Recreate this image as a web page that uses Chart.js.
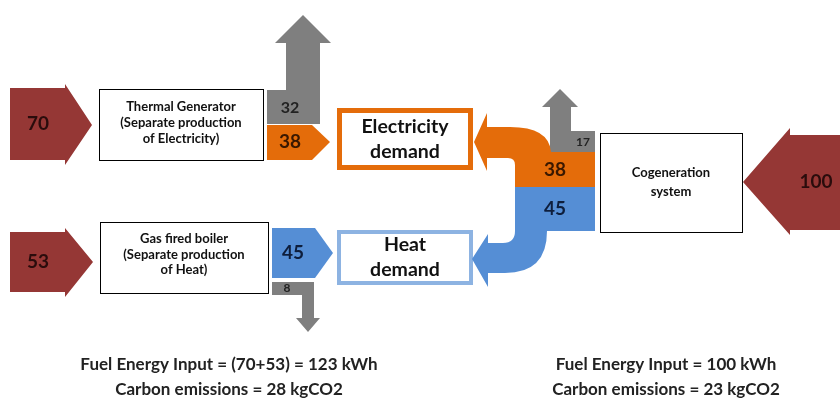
<!DOCTYPE html>
<html>
<head>
<meta charset="utf-8">
<script src="https://cdn.jsdelivr.net/npm/chart.js@4.4.0/dist/chart.umd.min.js"></script>
<style>
  html, body { margin: 0; padding: 0; background: #fff; }
  #wrap { width: 840px; height: 403px; }
</style>
</head>
<body>
<div id="wrap"><canvas id="flowChart"></canvas></div>
<script>
// energy flows in kWh
const fuelInputs = [70, 53, 100];          // thermal generator, gas boiler, cogeneration
const electricityOut = [38, 38];           // separate, cogeneration
const heatOut = [45, 45];                  // separate, cogeneration
const lossValues = [32, 8, 17];            // thermal generator, gas boiler, cogeneration
const carbonEmissions = [28, 23];          // separate production, cogeneration (kgCO2)

const plantNames = [
  ['Thermal Generator', '(Separate production', 'of Electricity)'],
  ['Gas fired boiler', '(Separate production', 'of Heat)'],
  ['Cogeneration', 'system']
];
const demandNames = [['Electricity', 'demand'], ['Heat', 'demand']];

const summaryLeft = [
  'Fuel Energy Input = (' + fuelInputs[0] + '+' + fuelInputs[1] + ') = ' + (fuelInputs[0] + fuelInputs[1]) + ' kWh',
  'Carbon emissions = ' + carbonEmissions[0] + ' kgCO2'
];
const summaryRight = [
  'Fuel Energy Input = ' + fuelInputs[2] + ' kWh',
  'Carbon emissions = ' + carbonEmissions[1] + ' kgCO2'
];

const BROWN = '#953735', ORANGE = '#e46c0a', BLUE = '#558ed5', GREY = '#7f7f7f';
const FONT = 'Lato, "Open Sans", sans-serif';

// diagram layout in axis units (axes run 0..840 and 0..403)
const shapes = {
  fuel: [
    [[10, 88], [65, 88], [65, 84], [92, 125], [65, 165], [65, 160], [10, 160]],
    [[10, 232], [65, 232], [65, 228], [93, 262], [65, 297], [65, 292], [10, 292]],
    [[840, 135], [790, 135], [790, 128], [743, 182], [790, 235], [790, 230], [840, 230]]
  ],
  fuelText: [[38, 124], [38, 262], [816, 182]],
  loss: [
    [[267, 124], [267, 90], [286, 90], [286, 43], [275, 43], [303, 15], [331, 43], [320, 43], [320, 124]],
    [[272, 282], [314, 282], [314, 318], [320, 318], [308, 332], [296, 318], [302, 318], [302, 295], [272, 295]],
    [[550, 153], [550, 107], [542, 107], [560, 89], [578, 107], [571, 107], [571, 131], [595, 131], [595, 153]]
  ],
  lossText: [[290, 108, 16], [287, 288.5, 12], [583, 142, 12]],
  elecArrow: [[267, 125], [312, 125], [330, 142], [312, 160], [267, 160]],
  heatArrow: [[272, 228], [315, 228], [333, 253], [315, 278], [272, 278]]
};

function poly(ctx, X, Y, pts, color) {
  ctx.beginPath();
  pts.forEach(function (p, i) {
    if (i === 0) ctx.moveTo(X(p[0]), Y(p[1]));
    else ctx.lineTo(X(p[0]), Y(p[1]));
  });
  ctx.closePath();
  ctx.fillStyle = color;
  ctx.fill();
}

function label(ctx, X, Y, text, x, y, size, color) {
  ctx.font = 'bold ' + size + 'px ' + FONT;
  ctx.fillStyle = color;
  ctx.textAlign = 'center';
  ctx.textBaseline = 'middle';
  ctx.fillText(text, X(x), Y(y));
}

const diagramPlugin = {
  id: 'diagram',
  afterDraw: function (chart) {
    const ctx = chart.ctx;
    const xs = chart.scales.x, ys = chart.scales.y;
    const X = function (v) { return xs.getPixelForValue(v); };
    const Y = function (v) { return ys.getPixelForValue(v); };
    ctx.save();

    // plant boxes
    const boxes = [[99, 89, 263, 160], [100, 222, 268, 293], [600, 133, 742, 232]];
    const boxLines = [[107, 123, 139], [239, 255, 270], [173, 192]];
    boxes.forEach(function (b, i) {
      ctx.fillStyle = '#fff';
      ctx.fillRect(X(b[0]), Y(b[1]), X(b[2]) - X(b[0]), Y(b[3]) - Y(b[1]));
      ctx.strokeStyle = '#000';
      ctx.lineWidth = 1;
      ctx.strokeRect(X(b[0]) + 0.5, Y(b[1]) + 0.5, X(b[2]) - X(b[0]), Y(b[3]) - Y(b[1]));
      plantNames[i].forEach(function (t, j) {
        label(ctx, X, Y, t, (b[0] + b[2]) / 2, boxLines[i][j], 13, '#111');
      });
    });

    // demand boxes
    const demand = [[337, 108, 473, 170, 5, ORANGE, [127, 152]], [337, 230, 473, 285, 4, '#8db3e2', [245, 270]]];
    demand.forEach(function (d, i) {
      ctx.strokeStyle = d[5];
      ctx.lineWidth = d[4];
      const h = d[4] / 2;
      ctx.strokeRect(X(d[0]) + h, Y(d[1]) + h, X(d[2]) - X(d[0]) - d[4], Y(d[3]) - Y(d[1]) - d[4]);
      demandNames[i].forEach(function (t, j) {
        label(ctx, X, Y, t, (d[0] + d[2]) / 2, d[6][j], 19.5, '#111');
      });
    });

    // fuel inputs
    shapes.fuel.forEach(function (p, i) {
      poly(ctx, X, Y, p, BROWN);
      label(ctx, X, Y, String(fuelInputs[i]), shapes.fuelText[i][0], shapes.fuelText[i][1], 19, '#2a0c0c');
    });

    // losses
    shapes.loss.forEach(function (p, i) {
      poly(ctx, X, Y, p, GREY);
      const t = shapes.lossText[i];
      label(ctx, X, Y, String(lossValues[i]), t[0], t[1], t[2], '#222');
    });

    // separate production outputs
    poly(ctx, X, Y, shapes.elecArrow, ORANGE);
    label(ctx, X, Y, String(electricityOut[0]), 290, 142, 19, '#3a1800');
    poly(ctx, X, Y, shapes.heatArrow, BLUE);
    label(ctx, X, Y, String(heatOut[0]), 293, 253, 19, '#0e1e3c');

    // cogeneration electricity: block curving up-left into the demand box
    ctx.beginPath();
    ctx.moveTo(X(595), Y(152));
    ctx.lineTo(X(551), Y(152));
    ctx.quadraticCurveTo(X(549), Y(127), X(510), Y(127));
    ctx.lineTo(X(487), Y(127));
    ctx.lineTo(X(487), Y(113));
    ctx.lineTo(X(474), Y(142));
    ctx.lineTo(X(487), Y(171));
    ctx.lineTo(X(487), Y(158));
    ctx.lineTo(X(508), Y(158));
    ctx.quadraticCurveTo(X(515), Y(158), X(515), Y(165));
    ctx.lineTo(X(515), Y(187));
    ctx.lineTo(X(595), Y(187));
    ctx.closePath();
    ctx.fillStyle = ORANGE;
    ctx.fill();
    label(ctx, X, Y, String(electricityOut[1]), 555, 170, 19, '#3a1800');

    // cogeneration heat: block curving down-left into the demand box
    ctx.beginPath();
    ctx.moveTo(X(515), Y(187));
    ctx.lineTo(X(595), Y(187));
    ctx.lineTo(X(595), Y(231));
    ctx.lineTo(X(547), Y(231));
    ctx.quadraticCurveTo(X(547), Y(273), X(505), Y(273));
    ctx.lineTo(X(488), Y(273));
    ctx.lineTo(X(488), Y(287));
    ctx.lineTo(X(472), Y(259));
    ctx.lineTo(X(488), Y(234));
    ctx.lineTo(X(488), Y(243));
    ctx.lineTo(X(503), Y(243));
    ctx.quadraticCurveTo(X(515), Y(243), X(515), Y(231));
    ctx.closePath();
    ctx.fillStyle = BLUE;
    ctx.fill();
    label(ctx, X, Y, String(heatOut[1]), 555, 209, 19, '#0e1e3c');

    // summary text
    summaryLeft.forEach(function (t, j) {
      label(ctx, X, Y, t, 229, 365 + j * 25, 17, '#222');
    });
    summaryRight.forEach(function (t, j) {
      label(ctx, X, Y, t, 666, 365 + j * 25, 17, '#222');
    });

    ctx.restore();
  }
};

new Chart(document.getElementById('flowChart').getContext('2d'), {
  type: 'scatter',
  data: { datasets: [{ data: [] }] },
  options: {
    responsive: true,
    maintainAspectRatio: false,
    animation: false,
    devicePixelRatio: 1,
    layout: { padding: 0 },
    plugins: { legend: { display: false }, tooltip: { enabled: false } },
    scales: {
      x: { type: 'linear', min: 0, max: 840, display: false },
      y: { type: 'linear', min: 0, max: 403, reverse: true, display: false }
    }
  },
  plugins: [diagramPlugin]
});
</script>
</body>
</html>
